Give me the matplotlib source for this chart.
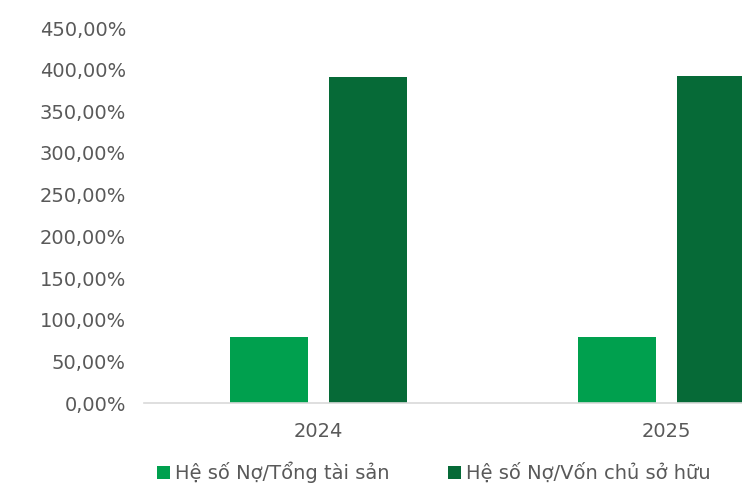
import numpy as np
import matplotlib.pyplot as plt
from matplotlib.ticker import FuncFormatter

# Debt ratios by year (percent)
years = ['2024', '2025']
debt_to_assets = [79.5, 79.5]
debt_to_equity = [391.0, 392.5]
series_names = ['Hệ số Nợ/Tổng tài sản', 'Hệ số Nợ/Vốn chủ sở hữu']

light_green = '#00A04E'
dark_green = '#066A37'
text_gray = '#595959'

plt.rcParams['font.family'] = ['DejaVu Sans']

fig = plt.figure(figsize=(7.42, 4.86), dpi=100)
# axes runs past the right edge of the figure, so the last bar is cut off
ax = fig.add_axes([144 / 742, 83 / 486, 697 / 742, 375 / 486])

x = np.arange(len(years))
width = 0.223
offset = 0.142
ax.bar(x - offset, debt_to_assets, width, color=light_green, label=series_names[0])
ax.bar(x + offset, debt_to_equity, width, color=dark_green, label=series_names[1])

ax.set_xlim(-0.5, 1.5)
ax.set_ylim(0, 450)
ax.set_yticks(np.arange(0, 451, 50))
ax.yaxis.set_major_formatter(FuncFormatter(lambda v, p: f'{v:.2f}%'.replace('.', ',')))
ax.set_xticks(x)
ax.set_xticklabels(years)

for side in ['top', 'right', 'left']:
    ax.spines[side].set_visible(False)
ax.spines['bottom'].set_color('#D9D9D9')
ax.spines['bottom'].set_linewidth(1.2)
ax.tick_params(axis='both', length=0, labelsize=14, labelcolor=text_gray)
ax.tick_params(axis='y', pad=13)
ax.tick_params(axis='x', pad=14)

fig.legend(loc='lower left', bbox_to_anchor=(157 / 742, 0.006), ncol=2,
           frameon=False, fontsize=14, labelcolor=text_gray,
           handlelength=0.67, handleheight=0.67, handletextpad=0.25,
           columnspacing=3.0, borderpad=0, borderaxespad=0)

fig.savefig('out.png', dpi=100)
